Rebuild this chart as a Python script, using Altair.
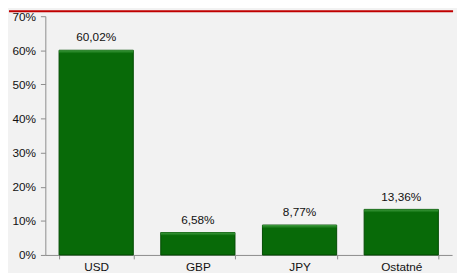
import altair as alt
import pandas as pd

categories = ["USD", "GBP", "JPY", "Ostatné"]
values = [60.02, 6.58, 8.77, 13.36]
labels = ["60,02%", "6,58%", "8,77%", "13,36%"]

df = pd.DataFrame({
    "cat": categories,
    "val": [v / 100 for v in values],
    "label": labels,
})

FONT = "Liberation Sans"
W, H = 414, 243

x = alt.X("cat:N", sort=categories, title=None,
          scale=alt.Scale(paddingInner=0.27, paddingOuter=0.135),
          axis=alt.Axis(labelAngle=0, tickBand="extent", tickSize=4,
                        labelPadding=3, domainColor="#8c8c8c", tickColor="#8c8c8c",
                        labelFont=FONT, labelFontSize=12, labelColor="#111111"))
y = alt.Y("val:Q", title=None,
          scale=alt.Scale(domain=[0, 0.7], nice=False),
          axis=alt.Axis(format=".0%", values=[0, 0.1, 0.2, 0.3, 0.4, 0.5, 0.6, 0.7],
                        grid=False, tickSize=5, labelPadding=5,
                        domainColor="#8c8c8c", tickColor="#8c8c8c",
                        labelFont=FONT, labelFontSize=12, labelColor="#111111"))

base = alt.Chart(df)

bars = base.mark_bar(color="#086a08", stroke="#024a02", strokeWidth=1).encode(x=x, y=y)

bevel = base.mark_bar(
    color=alt.Gradient(gradient="linear", x1=0, y1=0, x2=0, y2=1,
                       stops=[alt.GradientStop(offset=0, color="#3f9a3f"),
                              alt.GradientStop(offset=1, color="#0d700d")]),
    y2Offset=3, strokeWidth=0,
).encode(x=x, y=y, y2=alt.Y2("val:Q"))

text = base.mark_text(baseline="bottom", dy=-6, font=FONT, fontSize=12,
                      color="#111111").encode(x=x, y=y, text="label:N")

redline = alt.Chart(pd.DataFrame({"a": [0]})).mark_rule(
    color="#c00000", strokeWidth=2).encode(
    x=alt.value(-37), x2=alt.value(W + 1), y=alt.value(-5))

chart = alt.layer(bars, bevel, text, redline).properties(
    width=W, height=H,
    padding={"left": 38, "top": 6, "right": 5, "bottom": 16},
    autosize=alt.AutoSizeParams(type="none"),
    background="#f2f2f2",
).configure_view(stroke=None)

chart.save("out.html", embed_options={"renderer": "svg", "actions": False})
